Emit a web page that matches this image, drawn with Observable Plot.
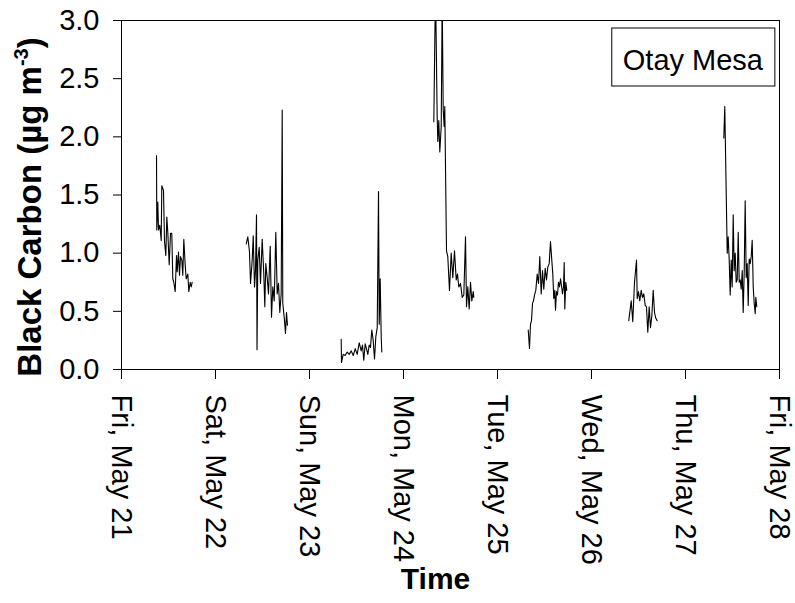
<!DOCTYPE html>
<html><head><meta charset="utf-8">
<script src="https://cdn.jsdelivr.net/npm/d3@7"></script>
<script src="https://cdn.jsdelivr.net/npm/@observablehq/plot@0.6"></script>
<style>body{margin:0;background:#fff;font-family:"Liberation Sans",Arial,sans-serif}</style>
</head><body><div id="chart"></div>
<script>
// Day on which each measurement segment was recorded (UTC dates)
const segmentDays = ["2004-05-21","2004-05-22","2004-05-23","2004-05-24","2004-05-25","2004-05-26","2004-05-27"];
// Hours of the day and black carbon values (µg m^-3) for each segment
const seg1Hours = [8.94,9.01,9.27,9.45,9.78,10.14,10.29,10.72,10.98,11.31,11.57,11.82,12.18,12.51,12.84,13.10,13.35,13.71,14.04,14.22,14.55,14.81,15.06,15.40,15.65,15.91,16.26,16.52,16.93,17.18,17.54,17.80,18.05];
const seg1Values = [1.84,1.20,1.44,1.20,1.24,1.11,1.58,1.54,1.10,0.98,1.31,1.18,0.90,1.17,1.17,0.78,0.75,0.67,0.98,0.84,1.01,0.81,0.97,0.94,0.81,1.12,0.90,0.78,0.82,0.67,0.75,0.71,0.75];
const seg2Hours = [7.84,8.25,8.68,8.94,9.37,9.63,9.96,10.21,10.47,10.60,10.80,11.16,11.49,11.92,12.33,12.59,12.84,13.20,13.53,13.97,14.30,14.63,14.99,15.40,15.75,16.09,16.42,16.77,17.03,17.18,17.62,17.87,18.13,18.38];
const seg2Values = [1.08,1.14,1.01,0.74,0.94,1.15,0.71,0.85,1.33,0.17,0.94,1.05,0.74,1.12,0.82,0.54,0.91,0.79,0.65,1.06,0.45,0.71,0.59,1.18,0.65,0.74,0.49,0.65,2.23,0.57,0.42,0.31,0.49,0.38];
const seg3Hours = [8.09,8.17,8.60,9.11,9.63,10.14,10.65,11.16,11.67,12.18,12.69,13.20,13.53,13.86,14.22,14.55,14.89,15.24,15.57,15.91,16.26,16.60,16.93,17.29,17.62,17.80,18.05,18.31,18.46];
const seg3Values = [0.26,0.06,0.13,0.12,0.15,0.13,0.16,0.12,0.18,0.13,0.23,0.16,0.21,0.08,0.22,0.18,0.13,0.21,0.19,0.34,0.25,0.09,0.28,0.36,1.53,0.39,0.78,0.28,0.15];
const seg4Hours = [7.74,8.17,8.60,8.76,9.01,9.27,9.63,9.88,10.14,10.39,10.54,10.98,11.31,11.74,12.18,12.59,13.02,13.46,13.79,14.12,14.55,14.99,15.40,15.83,16.09,16.42,16.77,17.11,17.44,17.80,17.95];
const seg4Values = [2.13,3.30,2.17,1.96,2.14,1.87,2.09,3.20,2.23,2.09,2.26,1.02,0.97,0.68,1.00,0.79,1.02,0.77,0.82,0.71,0.74,0.62,0.64,1.14,0.54,0.71,0.52,0.75,0.59,0.67,0.62];
const seg5Hours = [7.84,8.17,8.43,8.68,8.94,9.19,9.45,9.78,10.14,10.47,10.80,11.16,11.49,11.82,12.18,12.51,12.84,13.20,13.53,13.86,14.12,14.37,14.63,14.81,15.06,15.32,15.57,15.83,16.09,16.34,16.60,16.85,17.03,17.18,17.44,17.69];
const seg5Values = [0.34,0.18,0.39,0.42,0.57,0.59,0.64,0.68,0.82,0.74,0.97,0.65,0.85,0.69,0.87,0.77,0.88,0.91,1.10,0.94,0.82,0.61,0.68,0.51,0.67,0.64,0.75,0.71,0.78,0.72,0.65,0.71,0.92,0.52,0.75,0.68];
const seg6Hours = [9.52,10.14,10.54,10.98,11.49,11.67,12.00,12.33,12.69,13.02,13.35,13.71,14.04,14.37,14.73,15.06,15.40,15.75,16.09,16.42,16.77];
const seg6Values = [0.42,0.59,0.41,0.75,0.94,0.61,0.67,0.59,0.68,0.62,0.65,0.55,0.54,0.32,0.54,0.36,0.46,0.68,0.49,0.44,0.42];
const seg7Hours = [9.78,10.03,10.65,10.90,11.16,11.41,11.67,11.92,12.18,12.43,12.69,12.94,13.20,13.46,13.71,13.97,14.22,14.48,14.73,14.99,15.24,15.50,15.75,16.01,16.26,16.52,16.77,17.03,17.29,17.54,17.80,17.95,18.20];
const seg7Values = [1.99,2.26,1.00,1.14,0.94,0.64,0.94,0.71,1.33,0.85,1.00,0.75,0.77,1.18,0.75,0.77,0.69,0.85,0.49,0.84,1.45,0.79,0.91,0.55,0.95,0.91,0.97,1.11,0.71,0.57,0.48,0.62,0.54];

const xTickDays = ["2004-05-21","2004-05-22","2004-05-23","2004-05-24","2004-05-25","2004-05-26","2004-05-27","2004-05-28"];
const yTicks = [0, 0.5, 1.0, 1.5, 2.0, 2.5, 3.0];
const yLabelMain = "Black Carbon (µg m";
const yLabelSup = "-3";
const yLabelEnd = ")";
const xLabel = "Time";
const legendLabel = "Otay Mesa";

const segHours = [seg1Hours, seg2Hours, seg3Hours, seg4Hours, seg5Hours, seg6Hours, seg7Hours];
const segValues = [seg1Values, seg2Values, seg3Values, seg4Values, seg5Values, seg6Values, seg7Values];
const rows = [];
segmentDays.forEach((day, i) => {
  const base = new Date(day + "T00:00:00Z").getTime();
  segHours[i].forEach((h, j) => rows.push({segment: i, time: new Date(base + h * 3600e3), value: segValues[i][j]}));
});
const xDates = xTickDays.map(d => new Date(d + "T00:00:00Z"));
const font = '"Liberation Sans", Arial, sans-serif';

const plot = Plot.plot({
  width: 795, height: 603,
  marginLeft: 121, marginRight: 16, marginTop: 20, marginBottom: 234,
  style: {fontFamily: font, background: "white", color: "black", overflow: "visible"},
  x: {type: "utc", domain: [xDates[0], xDates[xDates.length - 1]]},
  y: {domain: [0, 3]},
  marks: [
    Plot.lineY(rows, {x: "time", y: "value", z: "segment", stroke: "black", strokeWidth: 1.1, clip: true}),
    Plot.frame({stroke: "black", strokeWidth: 1}),
    Plot.axisY({ticks: yTicks, tickFormat: d3.format(".1f"), tickSize: 8, tickPadding: 14, fontSize: 29, label: null}),
    Plot.axisX({ticks: xDates, tickFormat: d3.utcFormat("%a, %b %d"), tickSize: 10, tickPadding: 15, tickRotate: 90, fontSize: 29, label: null}),
    Plot.text([xLabel], {text: d => d, frameAnchor: "bottom", dy: 198, dx: -15, lineAnchor: "top", fontSize: 30, fontWeight: "bold"})
  ]
});
document.getElementById("chart").appendChild(plot);

const svg = d3.select(plot);
const yt = svg.append("text")
  .attr("transform", "translate(41,207) rotate(-90)")
  .attr("text-anchor", "middle")
  .attr("font-family", font).attr("font-size", 33).attr("font-weight", "bold").attr("fill", "black");
yt.append("tspan").text(yLabelMain);
yt.append("tspan").attr("font-size", 20).attr("dy", -13).text(yLabelSup);
yt.append("tspan").attr("dy", 13).text(yLabelEnd);

const lg = svg.append("g");
const lt = lg.append("text").attr("x", 763).attr("y", 70).attr("text-anchor", "end")
  .attr("font-family", font).attr("font-size", 29).attr("fill", "black").text(legendLabel);
const bb = lt.node().getBBox();
lg.insert("rect", "text").attr("x", bb.x - 11).attr("y", 28).attr("width", bb.width + 22).attr("height", 58)
  .attr("fill", "white").attr("stroke", "black").attr("stroke-width", 1);
</script></body></html>
